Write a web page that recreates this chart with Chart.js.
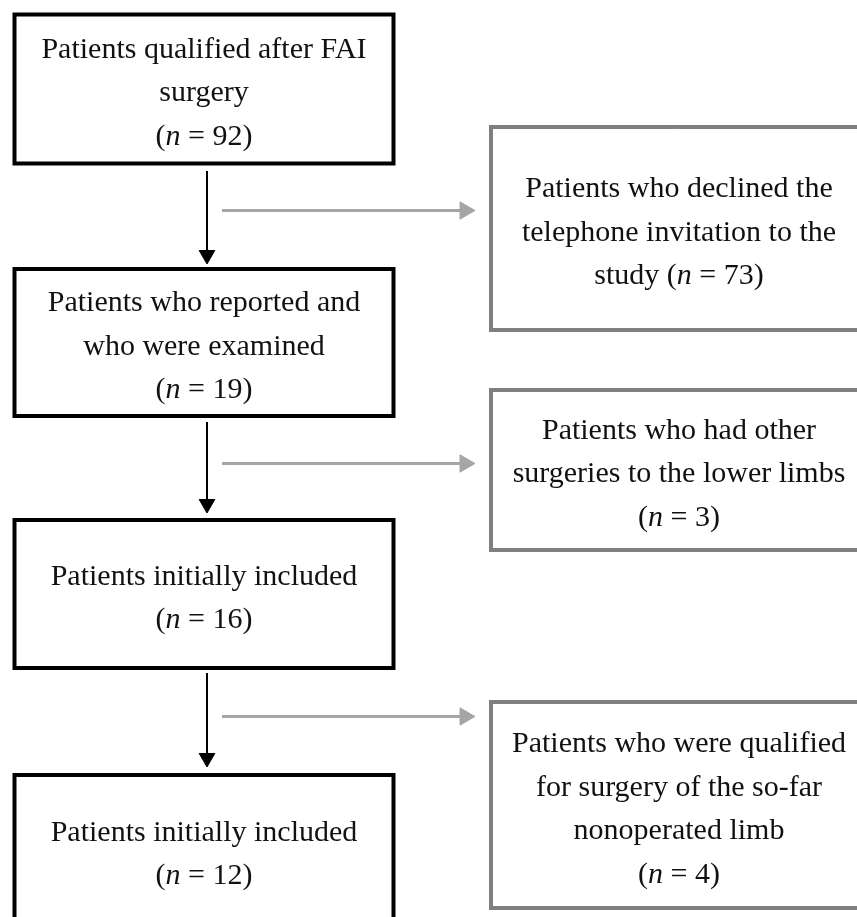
<!DOCTYPE html>
<html>
<head>
<meta charset="utf-8">
<title>Patient flow</title>
<script src="https://cdn.jsdelivr.net/npm/chart.js@4.4.1/dist/chart.umd.min.js"></script>
<style>
  html, body { margin: 0; padding: 0; background: #fff; }
  canvas { display: block; }
</style>
</head>
<body>
<canvas id="flow" width="857" height="917"></canvas>
<script>
'use strict';

// ─── Data ─────────────────────────────────────────────────────────────────────
// Each label is a list of lines; the count is appended to the last line.

const stepLabels = [
  ['Patients qualified after FAI', 'surgery', ''],
  ['Patients who reported and', 'who were examined', ''],
  ['Patients initially included', ''],
  ['Patients initially included', ''],
];
const stepCounts = [92, 19, 16, 12];

const exclusionLabels = [
  ['Patients who declined the', 'telephone invitation to the', 'study '],
  ['Patients who had other', 'surgeries to the lower limbs', ''],
  ['Patients who were qualified', 'for surgery of the so-far', 'nonoperated limb', ''],
];
const exclusionCounts = [73, 3, 4];

// ─── Layout (axis units = page pixels) ────────────────────────────────────────

const W = 857, H = 917;
const FONT_SIZE = 30;
const LINE_GAP = 43.5;
const TEXT_SHIFT = 4.5;

const stepBoxes = [
  { left: 14.5, right: 393.5, top: 14.5, bottom: 163.5 },
  { left: 14.5, right: 393.5, top: 269, bottom: 416 },
  { left: 14.5, right: 393.5, top: 520, bottom: 668 },
  { left: 14.5, right: 393.5, top: 775, bottom: 925 },
];
const exclusionBoxes = [
  { left: 491, right: 864, top: 127, bottom: 330 },
  { left: 491, right: 864, top: 390, bottom: 550 },
  { left: 491, right: 864, top: 702, bottom: 908 },
];
const stepTextX = 204;
const exclusionTextX = 679;

const downArrows = [
  { x: 207, from: 171, to: 264 },
  { x: 207, from: 422, to: 513 },
  { x: 207, from: 673, to: 767 },
];
const sideArrows = [
  { y: 210.5, from: 222, to: 475 },
  { y: 463.5, from: 222, to: 475 },
  { y: 716.5, from: 222, to: 475 },
];

const BLACK = '#000000';
const BOX_GREY = '#7f7f7f';
const ARROW_GREY = '#a6a6a6';

// ─── Datasets ─────────────────────────────────────────────────────────────────

function boxDataset(b, color) {
  const mid = (b.left + b.right) / 2;
  return {
    data: [
      { x: mid, y: b.top }, { x: b.right, y: b.top }, { x: b.right, y: b.bottom },
      { x: b.left, y: b.bottom }, { x: b.left, y: b.top }, { x: mid, y: b.top },
    ],
    showLine: true,
    borderColor: color,
    borderWidth: 4,
    borderJoinStyle: 'miter',
    pointRadius: 0,
    fill: false,
    clip: false,
  };
}

function arrowDataset(points, color, width, headR, rotation) {
  return {
    data: points,
    showLine: true,
    borderColor: color,
    borderWidth: width,
    pointRadius: [0, headR],
    pointStyle: 'triangle',
    pointRotation: rotation,
    pointBackgroundColor: color,
    pointBorderColor: color,
    pointBorderWidth: 1,
    clip: false,
  };
}

const datasets = [
  ...stepBoxes.map(b => boxDataset(b, BLACK)),
  ...exclusionBoxes.map(b => boxDataset(b, BOX_GREY)),
  ...downArrows.map(a => arrowDataset(
    [{ x: a.x, y: a.from }, { x: a.x, y: a.to - 9 }], BLACK, 2, 9, 180)),
  ...sideArrows.map(a => arrowDataset(
    [{ x: a.from, y: a.y }, { x: a.to - 10, y: a.y }], ARROW_GREY, 3, 10, 90)),
];

// ─── Text ─────────────────────────────────────────────────────────────────────

const FAMILY = '"Liberation Serif", "DejaVu Serif", serif';

function drawLine(ctx, cx, cy, text, count) {
  const segs = count == null
    ? [{ t: text, it: false }]
    : [{ t: text + '(', it: false }, { t: 'n', it: true }, { t: ' = ' + count + ')', it: false }];
  let total = 0;
  segs.forEach(s => {
    ctx.font = `${s.it ? 'italic ' : ''}${FONT_SIZE}px ${FAMILY}`;
    s.w = ctx.measureText(s.t).width;
    total += s.w;
  });
  let x = cx - total / 2;
  segs.forEach(s => {
    ctx.font = `${s.it ? 'italic ' : ''}${FONT_SIZE}px ${FAMILY}`;
    ctx.fillText(s.t, x, cy);
    x += s.w;
  });
}

function drawLabels(chart, boxes, labels, counts, textX) {
  const { ctx, scales: { x, y } } = chart;
  boxes.forEach((b, i) => {
    const lines = labels[i];
    if (!lines) return;
    const centre = (b.top + b.bottom) / 2 + TEXT_SHIFT;
    const first = centre - (lines.length - 1) * LINE_GAP / 2;
    lines.forEach((line, j) => {
      const last = j === lines.length - 1;
      drawLine(ctx, x.getPixelForValue(textX), y.getPixelForValue(first + j * LINE_GAP),
        line, last ? counts[i] : null);
    });
  });
}

const labelPlugin = {
  id: 'boxLabels',
  afterDatasetsDraw(chart) {
    const ctx = chart.ctx;
    ctx.save();
    ctx.fillStyle = '#111';
    ctx.textAlign = 'left';
    ctx.textBaseline = 'middle';
    drawLabels(chart, stepBoxes, stepLabels, stepCounts, stepTextX);
    drawLabels(chart, exclusionBoxes, exclusionLabels, exclusionCounts, exclusionTextX);
    ctx.restore();
  },
};

// ─── Chart ────────────────────────────────────────────────────────────────────

new Chart(document.getElementById('flow'), {
  type: 'scatter',
  data: { datasets },
  options: {
    responsive: false,
    animation: false,
    events: [],
    layout: { padding: 0, autoPadding: false },
    plugins: {
      legend: { display: false },
      tooltip: { enabled: false },
    },
    scales: {
      x: { type: 'linear', min: 0, max: W, display: false },
      y: { type: 'linear', min: 0, max: H, reverse: true, display: false },
    },
  },
  plugins: [labelPlugin],
});
</script>
</body>
</html>
